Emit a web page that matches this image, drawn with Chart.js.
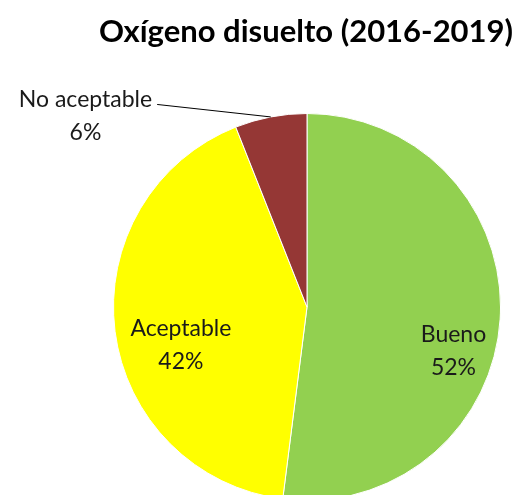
<!DOCTYPE html>
<html>
<head>
<meta charset="utf-8">
<script src="https://cdn.jsdelivr.net/npm/chart.js@4"></script>
<style>
  html, body { margin: 0; padding: 0; background: #fff; overflow: hidden; }
  canvas { display: block; }
</style>
</head>
<body>
<canvas id="pie" width="521" height="505"></canvas>
<script>
const chartTitle = 'Oxígeno disuelto (2016-2019)';
const categories = ['Bueno', 'Aceptable', 'No aceptable'];
const percentages = [52, 42, 6];
const sliceColors = ['#92D050', '#FFFF00', '#953735'];

// label placement: degrees added to slice mid-angle, radius as fraction of pie radius
const labelPlacement = [
  { turn: 13, dist: 0.79 },
  { turn: -9.4, dist: 0.68 },
  { turn: -38.5, dist: 1.51, leader: true },
];

const labelFont = '23px Lato, "Open Sans", sans-serif';

const pieLabels = {
  id: 'pieLabels',
  afterDraw(chart) {
    const ctx = chart.ctx;
    ctx.save();
    // title
    ctx.fillStyle = '#000';
    ctx.font = 'bold 31px Lato, "Open Sans", sans-serif';
    ctx.textAlign = 'center';
    ctx.textBaseline = 'middle';
    ctx.fillText(chartTitle, 306, 32);

    const arcs = chart.getDatasetMeta(0).data;
    arcs.forEach((arc, i) => {
      const p = arc.getProps(['x', 'y', 'startAngle', 'endAngle', 'outerRadius'], true);
      const mid = (p.startAngle + p.endAngle) / 2;
      const a = mid + labelPlacement[i].turn * Math.PI / 180;
      const r = p.outerRadius * labelPlacement[i].dist;
      const lx = p.x + Math.cos(a) * r;
      const ly = p.y + Math.sin(a) * r;
      ctx.font = labelFont;
      ctx.fillStyle = '#1a1a1a';
      ctx.textAlign = 'center';
      ctx.textBaseline = 'middle';
      ctx.fillText(categories[i], lx, ly - 16.5);
      ctx.fillText(percentages[i] + '%', lx, ly + 16.5);
      if (labelPlacement[i].leader) {
        const w = ctx.measureText(categories[i]).width;
        ctx.strokeStyle = '#000';
        ctx.lineWidth = 1;
        ctx.beginPath();
        ctx.moveTo(lx + w / 2 + 5, ly - 12);
        ctx.lineTo(p.x + Math.cos(mid) * p.outerRadius, p.y + Math.sin(mid) * p.outerRadius);
        ctx.stroke();
      }
    });
    ctx.restore();
  }
};

new Chart(document.getElementById('pie'), {
  type: 'pie',
  data: {
    labels: categories,
    datasets: [{
      data: percentages,
      backgroundColor: sliceColors,
      borderColor: '#fff',
      borderWidth: 1,
    }]
  },
  options: {
    responsive: false,
    animation: false,
    layout: { padding: { left: 113, right: 20, top: 113, bottom: 4 } },
    plugins: {
      legend: { display: false },
      tooltip: { enabled: false },
      title: { display: false },
    }
  },
  plugins: [pieLabels]
});
</script>
</body>
</html>
